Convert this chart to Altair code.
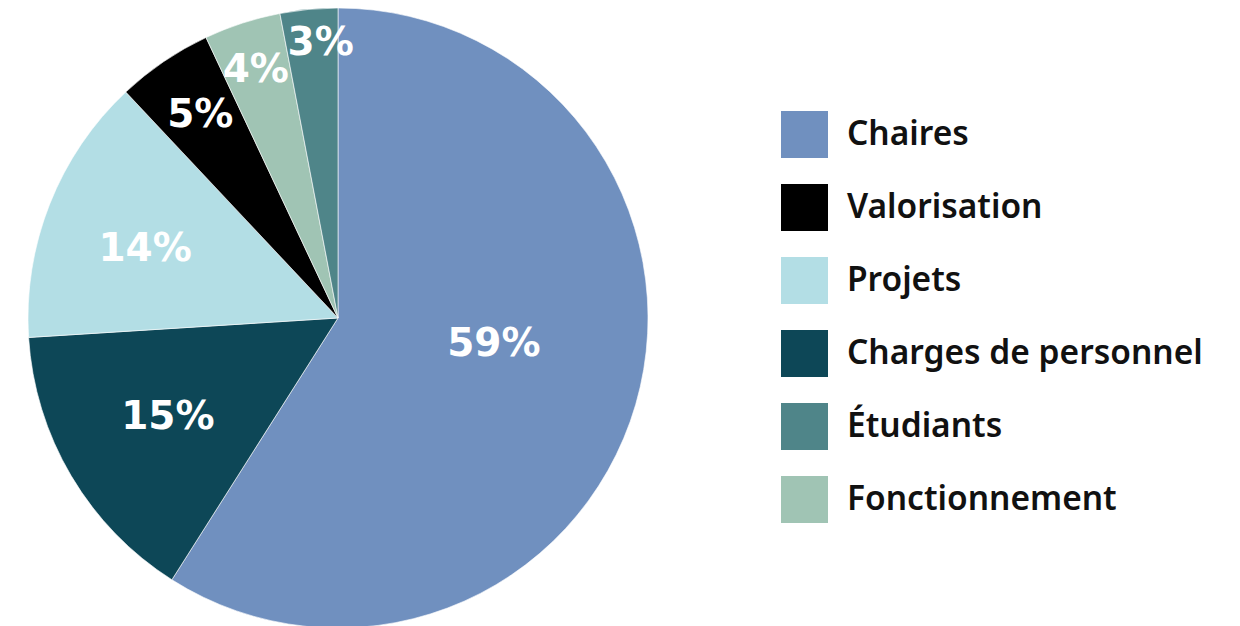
import altair as alt
import pandas as pd

categories = ["Chaires", "Charges de personnel", "Projets", "Valorisation", "Fonctionnement", "Étudiants"]
values = [59, 15, 14, 5, 4, 3]
labels = ["59%", "15%", "14%", "5%", "4%", "3%"]

legend_order = ["Chaires", "Valorisation", "Projets", "Charges de personnel", "Étudiants", "Fonctionnement"]
legend_colors = ["#7090BF", "#000000", "#B3DEE5", "#0D4757", "#4F8589", "#A0C4B4"]

# label placement (styling): distance from the pie centre and small turn along the slice
label_radius = [158, 197, 205, 245, 261, 276]
label_turn = [-1.9, 0.1, -0.5, 0.0, -0.1, 0.5]

df = pd.DataFrame({
    "cat": categories,
    "val": values,
    "lab": labels,
    "ord": list(range(len(categories))),
    "lr": label_radius,
    "turn": label_turn,
})

cx, cy, R = 330, 310, 310
total = sum(values)

pie = alt.Chart(df).mark_arc(outerRadius=R, stroke="white", strokeWidth=0.6).encode(
    theta=alt.Theta("val:Q", stack=True, scale=alt.Scale(domain=[0, total])),
    order=alt.Order("ord:Q"),
    x=alt.value(cx),
    y=alt.value(cy),
    color=alt.Color(
        "cat:N",
        scale=alt.Scale(domain=legend_order, range=legend_colors),
        legend=alt.Legend(
            title=None,
            orient="none",
            legendX=773,
            legendY=103,
            symbolType="square",
            symbolSize=2209,
            symbolStrokeWidth=0,
            symbolOpacity=1,
            labelFont="Noto Sans",
            labelFontWeight=600,
            labelFontSize=33.5,
            labelColor="#111111",
            labelOffset=19,
            labelLimit=420,
            rowPadding=26,
        ),
    ),
)

text = alt.Chart(df).transform_window(
    cum="sum(val)", sort=[alt.SortField("ord")], frame=[None, 0]
).transform_calculate(
    mid="datum.cum - datum.val / 2 + datum.turn"
).mark_text(
    font="DejaVu Sans",
    fontWeight="bold",
    fontSize=39,
    color="white",
    align="center",
    baseline="middle",
).encode(
    theta=alt.Theta("mid:Q", stack=None, scale=alt.Scale(domain=[0, total])),
    radius=alt.Radius("lr:Q", scale=None),
    x=alt.value(cx),
    y=alt.value(cy),
    text="lab:N",
)

chart = (pie + text).resolve_scale(theta="independent").properties(
    width=1224,
    height=618,
    padding=0,
    autosize=alt.AutoSizeParams(type="none"),
).configure(background="white").configure_view(stroke="transparent", strokeWidth=0)

chart.save("out.html", embed_options={"renderer": "svg", "actions": False})
